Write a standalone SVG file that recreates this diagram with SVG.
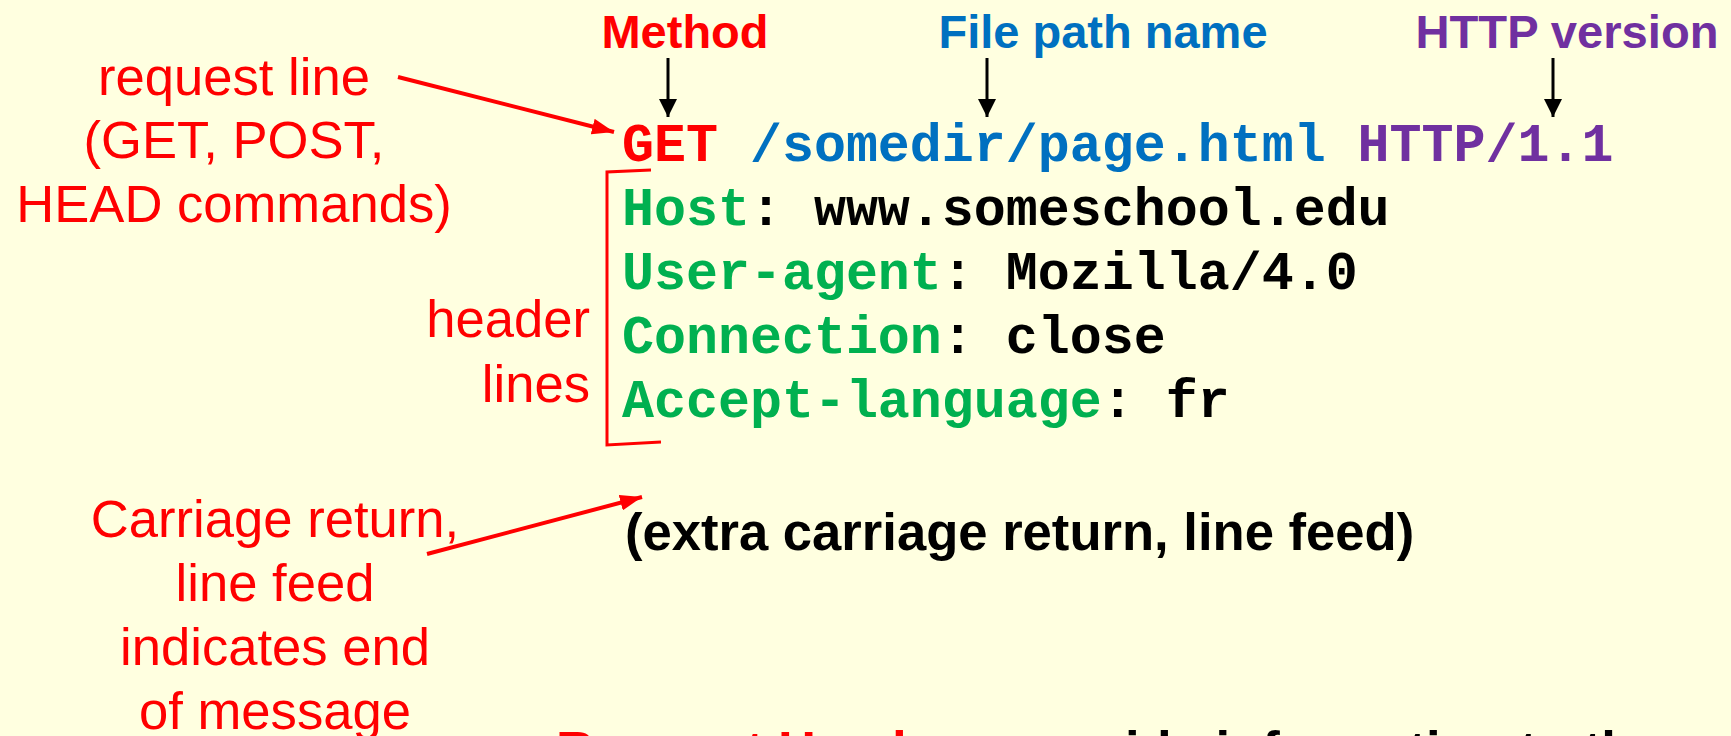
<svg xmlns="http://www.w3.org/2000/svg" width="1731" height="736" viewBox="0 0 1731 736">
  <defs>
    <marker id="ahBlack" viewBox="0 0 18 18" refX="18" refY="9" markerWidth="18" markerHeight="18" markerUnits="userSpaceOnUse" orient="auto">
      <path d="M0,0 L18,9 L0,18 z" fill="#000"/>
    </marker>
    <marker id="ahRed" viewBox="0 0 22 16" refX="22" refY="8" markerWidth="22" markerHeight="16" markerUnits="userSpaceOnUse" orient="auto">
      <path d="M0,0 L22,8 L0,16 z" fill="#FF0000"/>
    </marker>
    <style>
      .lbl { font-family: "Liberation Sans", Arial, sans-serif; font-size: 52.6px; fill: #FF0000; }
      .mid { text-anchor: middle; }
      .end { text-anchor: end; }
      .top { font-family: "Liberation Sans", Arial, sans-serif; font-size: 47px; font-weight: bold; text-anchor: middle; }
      .mono { font-family: "Liberation Mono", "Courier New", monospace; font-size: 53.3px; font-weight: bold; white-space: pre; }
      .bold { font-family: "Liberation Sans", Arial, sans-serif; font-size: 52.6px; font-weight: bold; }
      .red { fill: #FF0000; }
      .blue { fill: #0070C0; }
      .purple { fill: #7030A0; }
      .green { fill: #00B050; }
      .black { fill: #000000; }
      .arrowBlack { stroke: #000; stroke-width: 3; fill: none; marker-end: url(#ahBlack); }
      .arrowRed { stroke: #FF0000; stroke-width: 4; fill: none; marker-end: url(#ahRed); }
    </style>
  </defs>

  <rect x="0" y="0" width="1731" height="736" fill="#FFFFE0"/>

  <g id="label-method">
    <text class="top red" x="685" y="48">Method</text>
  </g>
  <g id="label-filepath">
    <text class="top blue" x="1103" y="48">File path name</text>
  </g>
  <g id="label-version">
    <text class="top purple" x="1567" y="48" textLength="303" lengthAdjust="spacingAndGlyphs">HTTP version</text>
  </g>

  <g id="label-requestline">
    <text class="lbl mid" x="234" y="95">request line</text>
    <text class="lbl mid" x="234" y="158">(GET, POST,</text>
    <text class="lbl mid" x="234" y="222">HEAD commands)</text>
  </g>

  <g id="label-headerlines">
    <text class="lbl end" x="590" y="337">header</text>
    <text class="lbl end" x="590" y="402">lines</text>
  </g>

  <g id="label-crlf">
    <text class="lbl mid" x="275" y="537">Carriage return,</text>
    <text class="lbl mid" x="275" y="601">line feed</text>
    <text class="lbl mid" x="275" y="665">indicates end</text>
    <text class="lbl mid" x="275" y="729">of message</text>
  </g>

  <g id="request-message">
    <text class="mono" x="622" y="161"><tspan class="red">GET</tspan><tspan class="blue"> /somedir/page.html</tspan><tspan class="purple"> HTTP/1.1</tspan></text>
    <text class="mono" x="622" y="225"><tspan class="green">Host</tspan><tspan class="black">: www.someschool.edu</tspan></text>
    <text class="mono" x="622" y="289"><tspan class="green">User-agent</tspan><tspan class="black">: Mozilla/4.0</tspan></text>
    <text class="mono" x="622" y="353"><tspan class="green">Connection</tspan><tspan class="black">: close</tspan></text>
    <text class="mono" x="622" y="417"><tspan class="green">Accept-language</tspan><tspan class="black">: fr</tspan></text>
  </g>

  <g id="extra-crlf">
    <text class="bold black" x="625" y="550">(extra carriage return, line feed)</text>
  </g>

  <g id="bottom-note">
    <text class="bold" y="768"><tspan class="red" x="556">Request Headers</tspan><tspan class="black" x="1011">provide information to the</tspan></text>
  </g>

  <g id="connectors">
    <line class="arrowBlack" x1="668" y1="58" x2="668" y2="117"/>
    <line class="arrowBlack" x1="987" y1="58" x2="987" y2="117"/>
    <line class="arrowBlack" x1="1553" y1="58" x2="1553" y2="117"/>
    <line class="arrowRed" x1="398" y1="77" x2="614" y2="132"/>
    <line class="arrowRed" x1="427" y1="554" x2="642" y2="497"/>
    <path d="M651,170 L607,172 L607,445 L661,442" fill="none" stroke="#FF0000" stroke-width="3"/>
  </g>
</svg>
